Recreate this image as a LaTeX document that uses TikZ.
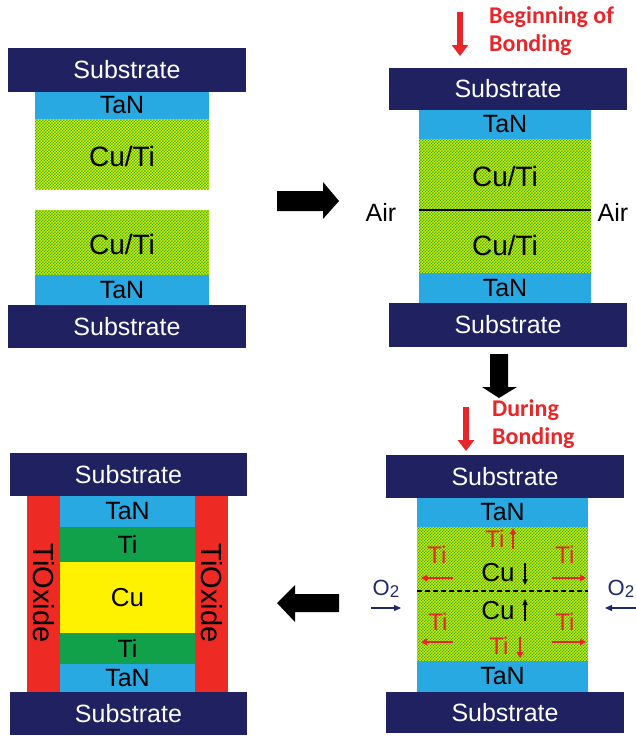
\documentclass[tikz,border=0pt]{standalone}
\usepackage{fontspec}
\setmainfont{Liberation Sans}
\newfontfamily\calib{Carlito}
\usetikzlibrary{patterns,arrows.meta}
\pgfdeclarepatternformonly{cudots}{\pgfqpoint{0pt}{0pt}}{\pgfqpoint{3.4pt}{3.4pt}}{\pgfqpoint{3.4pt}{3.4pt}}{%
  \pgfpathcircle{\pgfqpoint{0pt}{0pt}}{1pt}%
  \pgfpathcircle{\pgfqpoint{3.4pt}{0pt}}{1pt}%
  \pgfpathcircle{\pgfqpoint{0pt}{3.4pt}}{1pt}%
  \pgfpathcircle{\pgfqpoint{3.4pt}{3.4pt}}{1pt}%
  \pgfpathcircle{\pgfqpoint{1.7pt}{1.7pt}}{1pt}%
  \pgfusepath{fill}}
\definecolor{navy}{HTML}{1F2160}
\definecolor{tanblue}{HTML}{29A9E1}
\definecolor{tigreen}{HTML}{12A14B}
\definecolor{cuyellow}{HTML}{FFF200}
\definecolor{oxred}{HTML}{EE2A24}
\definecolor{dotgreen}{HTML}{22A322}
\definecolor{dotyellow}{HTML}{F4FA00}
\definecolor{lblred}{HTML}{E8262A}
\definecolor{o2blue}{HTML}{1F2A6B}
\tikzset{
  layer/.style={inner sep=0pt, outer sep=0pt, draw=none, font=\fontsize{25}{28}\selectfont},
  sub/.style={layer, fill=navy, text=white},
  tan/.style={layer, fill=tanblue, text=black},
  cuti/.style={layer, preaction={fill=dotyellow}, pattern=cudots, pattern color=dotgreen},
  tiL/.style={layer, fill=tigreen},
  cuL/.style={layer, fill=cuyellow, font=\fontsize{26}{28}\selectfont},
  oxide/.style={layer, fill=oxred},
  lbl/.style={inner sep=0pt, font=\fontsize{25}{28}\selectfont},
  cutilbl/.style={inner sep=0pt, font=\fontsize{28}{30}\selectfont},
  small/.style={inner sep=0pt, font=\fontsize{24}{26}\selectfont},
  cusmall/.style={inner sep=0pt, font=\fontsize{26}{28}\selectfont},
  redlbl/.style={inner sep=0pt, text=lblred, font=\calib\bfseries\fontsize{24}{28}\selectfont, align=left, anchor=north west},
  bigred/.style={draw=lblred, line width=6pt, -{Triangle[width=16pt,length=11pt]}},
  tiarrow/.style={draw=lblred, line width=1.8pt, -{Triangle[width=6.5pt,length=6pt]}},
  cuarrow/.style={draw=black, line width=1.4pt, -{Triangle[width=5pt,length=6pt]}},
  o2arrow/.style={draw=o2blue, line width=1.3pt, -{Triangle[width=6pt,length=7pt]}},
}
\begin{document}
\begin{tikzpicture}[x=1pt,y=-1pt]
\useasboundingbox[fill=white] (0,0) rectangle (636,736);

% ---------- top-left stack ----------
\node[sub, minimum width=238pt, minimum height=44pt] (sub1) at (127,70) {Substrate};
\node[tan, minimum width=174pt, minimum height=27pt] (tan1) at (122,105.5) {TaN};
\node[cuti, minimum width=174pt, minimum height=70pt] (cu1) at (122,154) {};
\node[cutilbl] (cu1t) at (122,156) {Cu/Ti};
\node[cuti, minimum width=174pt, minimum height=65pt] (cu2) at (122,242.5) {};
\node[cutilbl] (cu2t) at (122,244) {Cu/Ti};
\node[tan, minimum width=174pt, minimum height=30pt] (tan2) at (122,290) {TaN};
\node[sub, minimum width=238pt, minimum height=43pt] (sub2) at (127,326.5) {Substrate};

% ---------- top-right stack ----------
\node[sub, minimum width=238pt, minimum height=42pt] (sub3) at (508,89) {Substrate};
\node[tan, minimum width=172pt, minimum height=29pt] (tan3) at (505,124.5) {TaN};
\node[cuti, minimum width=172pt, minimum height=134pt] (cu3) at (505,206) {};
\node[cutilbl] (cu3a) at (505,176) {Cu/Ti};
\node[cutilbl] (cu3b) at (505,245) {Cu/Ti};
\coordinate (ifl) at (419,210);
\coordinate (ifr) at (591,210);
\draw[line width=2pt] (ifl) -- (ifr);
\node[tan, minimum width=172pt, minimum height=30pt] (tan4) at (505,288) {TaN};
\node[sub, minimum width=238pt, minimum height=44pt] (sub4) at (508,325) {Substrate};
\node[lbl] (airL) at (381,212) {Air};
\node[lbl] (airR) at (613,212) {Air};
\coordinate (ra1s) at (460,12);
\coordinate (ra1e) at (460,56);
\draw[bigred] (ra1s) -- (ra1e);
\node[redlbl] (beg) at (489,6) {Beginning of\\Bonding};

% ---------- bottom-right stack ----------
\node[sub, minimum width=238pt, minimum height=43pt] (sub5) at (505,476.5) {Substrate};
\node[tan, minimum width=171pt, minimum height=29pt] (tan5) at (502.5,512.5) {TaN};
\node[cuti, minimum width=171pt, minimum height=134pt] (cu5) at (502.5,594) {};
\coordinate (dl) at (417,591);
\coordinate (dr) at (588,591);
\draw[line width=1.2pt, dash pattern=on 5pt off 3pt] (dl) -- (dr);
\node[tan, minimum width=171pt, minimum height=31pt] (tan6) at (502.5,676.5) {TaN};
\node[sub, minimum width=238pt, minimum height=41pt] (sub6) at (505,712.5) {Substrate};
\coordinate (ra2s) at (466,407);
\coordinate (ra2e) at (466,451);
\draw[bigred] (ra2s) -- (ra2e);
\node[redlbl] (dur) at (492,399) {During\\Bonding};

% inner labels
\node[small, text=lblred] (tiT) at (495,539) {Ti};
\coordinate (tiTa) at (513,549); \coordinate (tiTb) at (513,528);
\draw[tiarrow] (tiTa) -- (tiTb);
\node[cusmall] (cuU) at (498,573) {Cu};
\coordinate (cuUa) at (525,563); \coordinate (cuUb) at (525,585);
\draw[cuarrow] (cuUa) -- (cuUb);
\node[cusmall] (cuD) at (498,611) {Cu};
\coordinate (cuDa) at (525,621); \coordinate (cuDb) at (525,599);
\draw[cuarrow] (cuDa) -- (cuDb);
\node[small, text=lblred] (tiB) at (499,646) {Ti};
\coordinate (tiBa) at (520,637); \coordinate (tiBb) at (520,658);
\draw[tiarrow] (tiBa) -- (tiBb);

\node[small, text=lblred] (tiUL) at (437,555) {Ti};
\coordinate (tiULa) at (453,578); \coordinate (tiULb) at (421,578);
\draw[tiarrow] (tiULa) -- (tiULb);
\node[small, text=lblred] (tiUR) at (565,555) {Ti};
\coordinate (tiURa) at (552,578); \coordinate (tiURb) at (586,578);
\draw[tiarrow] (tiURa) -- (tiURb);
\node[small, text=lblred] (tiLL) at (438,622) {Ti};
\coordinate (tiLLa) at (453,642); \coordinate (tiLLb) at (421,642);
\draw[tiarrow] (tiLLa) -- (tiLLb);
\node[small, text=lblred] (tiLR) at (565,622) {Ti};
\coordinate (tiLRa) at (552,642); \coordinate (tiLRb) at (586,642);
\draw[tiarrow] (tiLRa) -- (tiLRb);

% O2
\node[inner sep=0pt, text=o2blue, font=\fontsize{22}{24}\selectfont] (o2L) at (386,589) {O\raisebox{-1.5pt}{\fontsize{17}{18}\selectfont 2}};
\coordinate (o2La) at (371,608); \coordinate (o2Lb) at (401,608);
\draw[o2arrow] (o2La) -- (o2Lb);
\node[inner sep=0pt, text=o2blue, font=\fontsize{22}{24}\selectfont] (o2R) at (621,589) {O\raisebox{-1.5pt}{\fontsize{17}{18}\selectfont 2}};
\coordinate (o2Ra) at (637,608); \coordinate (o2Rb) at (605,608);
\draw[o2arrow] (o2Ra) -- (o2Rb);

% ---------- bottom-left stack ----------
\node[sub, minimum width=237pt, minimum height=43pt] (sub7) at (128.5,474.5) {Substrate};
\node[oxide, minimum width=33pt, minimum height=196pt] (oxL) at (43.5,594) {};
\node[inner sep=0pt, rotate=-90, font=\fontsize{29}{30}\selectfont] (oxLt) at (43.5,593) {TiOxide};
\node[oxide, minimum width=33pt, minimum height=196pt] (oxR) at (211.5,594) {};
\node[inner sep=0pt, rotate=-90, font=\fontsize{29}{30}\selectfont] (oxRt) at (211.5,593) {TiOxide};
\node[tan, minimum width=135pt, minimum height=31pt] (tan7) at (127.5,511.5) {TaN};
\node[tiL, minimum width=135pt, minimum height=35pt] (ti1) at (127.5,544.5) {Ti};
\node[cuL, minimum width=135pt, minimum height=71pt] (cub) at (127.5,597.5) {Cu};
\node[tiL, minimum width=135pt, minimum height=31pt] (ti2) at (127.5,648.5) {Ti};
\node[tan, minimum width=135pt, minimum height=28pt] (tan8) at (127.5,678) {TaN};
\node[sub, minimum width=237pt, minimum height=43pt] (sub8) at (128.5,713.5) {Substrate};

% ---------- black block arrows ----------
\fill[black] (277,191) -- (323,191) -- (323,182) -- (339,201) -- (323,219) -- (323,211) -- (277,211) -- cycle;
\fill[black] (490,354) -- (508,354) -- (508,387) -- (517,387) -- (499,398) -- (482,387) -- (490,387) -- cycle;
\fill[black] (339,594) -- (295,594) -- (295,585) -- (277,603) -- (295,622) -- (295,612) -- (339,612) -- cycle;
\end{tikzpicture}
\end{document}
